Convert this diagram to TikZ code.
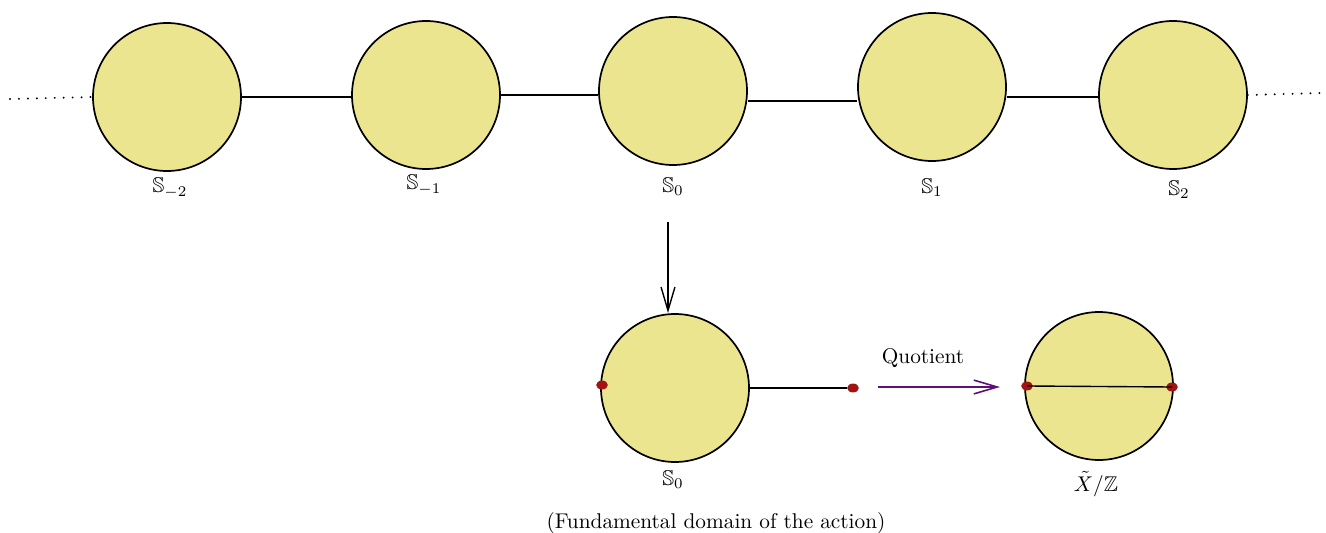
\documentclass[tikz,border=0pt]{standalone}
\usepackage{amssymb}
\usetikzlibrary{arrows.meta,shapes.geometric}
\definecolor{disk}{HTML}{ECE590}
\definecolor{pt}{HTML}{A01414}
\definecolor{qarrow}{HTML}{5E0F78}
\tikzset{
  sphere/.style={circle, draw=black, fill=disk, line width=0.8pt, minimum size=148*0.0165cm, inner sep=0pt},
  lab/.style={inner sep=0pt, font=\normalsize},
  conn/.style={line width=0.65pt},
  dots/.style={line width=1pt, line cap=round, dash pattern=on 0pt off 4.2pt},
  dot/.style={ellipse, fill=pt, minimum width=5.5pt, minimum height=4.2pt, inner sep=0pt},
  barb/.style={-{Straight Barb[length=11pt,width=6.5pt]}},
}
\begin{document}
\begin{tikzpicture}[x=0.0165cm,y=-0.0165cm]
\useasboundingbox (0,0) rectangle (1326,533);
% top row
\node[sphere] (sm2) at (167,97) {};
\node[sphere] (sm1) at (426,95) {};
\node[sphere] (s0) at (673,91) {};
\node[sphere] (s1) at (932,87) {};
\node[sphere] (s2) at (1173,95) {};
\node[lab] (lm2) at (170,188) {$\mathbb{S}_{-2}$};
\node[lab] (lm1) at (424,185) {$\mathbb{S}_{-1}$};
\node[lab] (l0) at (673,187) {$\mathbb{S}_{0}$};
\node[lab] (l1) at (932,188) {$\mathbb{S}_{1}$};
\node[lab] (l2) at (1179,190) {$\mathbb{S}_{2}$};
\coordinate (dl) at (10,99);
\coordinate (dr) at (1322,93);
\draw[dots] (dl) -- (sm2.west);
\draw[conn] (sm2.east) -- (sm1.west |- 0,97);
\draw[conn] (sm1.east) -- (s0.west |- 0,95);
\draw[conn] (s0.east |- 0,101) -- (s1.west |- 0,101);
\draw[conn] (s1.east |- 0,97) -- (s2.west |- 0,97);
\draw[dots] (s2.east) -- (dr);
% down arrow
\coordinate (at) at (668,222);
\coordinate (ab) at (668,313);
\draw[conn, barb] (at) -- (ab);
% bottom
\node[sphere] (b0) at (675,388) {};
\node[lab] (lb0) at (673,480) {$\mathbb{S}_{0}$};
\node[dot] (p1) at (602,385) {};
\node[dot] (p2) at (853,388) {};
\draw[conn] (b0.east |- 0,388) -- (p2);
\coordinate (qa) at (878,387);
\coordinate (qb) at (1000,387);
\draw[line width=0.75pt, qarrow, barb] (qa) -- (qb);
\node[lab] (q) at (923,358) {Quotient};
\node[sphere] (x) at (1099,386) {};
\node[dot] (p3) at (1027,386) {};
\node[dot] (p4) at (1172,387) {};
\draw[conn] (p3.center) -- (p4.center);
\node[lab] (lx) at (1096,484) {$\tilde{X}/\mathbb{Z}$};
\node[lab] (cap) at (716,523) {(Fundamental domain of the action)};
\end{tikzpicture}
\end{document}
